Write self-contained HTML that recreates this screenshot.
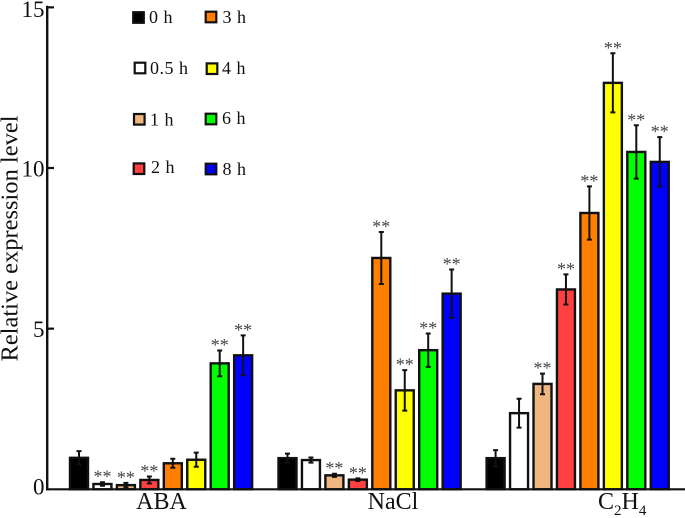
<!DOCTYPE html>
<html lang="en">
<head>
<meta charset="utf-8">
<title>Relative expression level chart</title>
<style>
html,body{margin:0;padding:0;background:#fff;}
svg{display:block;}
text{font-family:"Liberation Serif","Times New Roman",serif;fill:#111;}
</style>
</head>
<body>
<svg id="chart" xmlns="http://www.w3.org/2000/svg" width="685" height="518" viewBox="0 0 685 518"></svg>
<script>
const categories = ["ABA", "NaCl", "C2H4"];
const timepoints = ["0 h", "0.5 h", "1 h", "2 h", "3 h", "4 h", "6 h", "8 h"];
const colors = ["#000000", "#ffffff", "#f0b67f", "#ff4040", "#ff7f00", "#ffff00", "#00ff00", "#0000ff"];
const abaValues = [0.98, 0.165, 0.13, 0.29, 0.81, 0.92, 3.92, 4.17];
const naclValues = [0.97, 0.91, 0.435, 0.30, 7.2, 3.08, 4.33, 6.09];
const ethyleneValues = [0.97, 2.37, 3.28, 6.22, 8.6, 12.65, 10.5, 10.19];
const abaErrors = [0.21, 0.055, 0.07, 0.11, 0.14, 0.22, 0.40, 0.62];
const naclErrors = [0.14, 0.08, 0.05, 0.04, 0.81, 0.63, 0.52, 0.75];
const ethyleneErrors = [0.25, 0.45, 0.32, 0.47, 0.83, 0.92, 0.83, 0.77];
const abaStars = [0, 1, 1, 1, 0, 0, 1, 1];
const naclStars = [0, 0, 1, 1, 1, 1, 1, 1];
const ethyleneStars = [0, 0, 1, 1, 1, 1, 1, 1];
const yTicks = [0, 5, 10, 15];

const svg = document.getElementById('chart');
const NS = 'http://www.w3.org/2000/svg';
const y0 = 489.3, pxPerUnit = 32.13;
const groupStart = [79, 287.5, 495.6], step = 23.45, barW = 18;
const yScale = v => y0 - v * pxPerUnit;
const xScale = (g, i) => groupStart[g] + i * step;

function make(tag, attrs, parent) {
  const el = document.createElementNS(NS, tag);
  for (const k in attrs) el.setAttribute(k, attrs[k]);
  (parent || svg).appendChild(el);
  return el;
}

const seriesValues = [abaValues, naclValues, ethyleneValues];
const seriesErrors = [abaErrors, naclErrors, ethyleneErrors];
const seriesStars = [abaStars, naclStars, ethyleneStars];

seriesValues.forEach((vals, g) => {
  vals.forEach((v, i) => {
    const cx = xScale(g, i);
    const bar = make('rect', {x: cx - barW / 2, y: yScale(v), width: barW, height: y0 - yScale(v), fill: colors[i], stroke: '#111', 'stroke-width': 2.4});
    
    
    const e = seriesErrors[g][i];
    const top = yScale(v + e), bot = yScale(Math.max(v - e, 0));
    const err = make('path', {d: 'M' + cx + ' ' + top + 'V' + bot + 'M' + (cx - 2.5) + ' ' + top + 'H' + (cx + 2.5) + 'M' + (cx - 2.5) + ' ' + bot + 'H' + (cx + 2.5), fill: 'none', stroke: '#111', 'stroke-width': 2});
    
    
    if (seriesStars[g][i]) {
      const star = make('text', {x: cx, y: top + 0.5, 'text-anchor': 'middle', 'font-size': 18});
      star.textContent = '**';
      star.style.fill = '#444';
      
      
    }
  });
});

const yAxis = make('line', {x1: 47.2, y1: 5.8, x2: 47.2, y2: 490.5, stroke: '#111', 'stroke-width': 2.4});


const xAxis = make('line', {x1: 46, y1: y0, x2: 685, y2: y0, stroke: '#111', 'stroke-width': 2.2});



yTicks.forEach(t => {
  if (t > 0) {
    const tick = make('line', {x1: 47, y1: yScale(t), x2: 54, y2: yScale(t), stroke: '#111', 'stroke-width': 2.2});
    
    
  }
  const label = make('text', {x: 44.5, y: yScale(t) + 8.5 + (t === 0 ? -3.5 : 0) + (t === 15 ? 1 : 0), 'text-anchor': 'end', 'font-size': 23});
  label.textContent = t;
  
  
});

const yTitle = make('text', {transform: 'translate(17.5,361.5) rotate(-90)', 'font-size': 24, textLength: 246, lengthAdjust: 'spacingAndGlyphs'});
yTitle.textContent = 'Relative expression level';



const catCenters = [161.5, 393];
catCenters.forEach((cx, g) => {
  const c = make('text', {x: cx, y: 509, 'text-anchor': 'middle', 'font-size': 24});
  c.textContent = categories[g];
  
  
});
const eth = make('text', {x: 598, y: 509, 'font-size': 24});
eth.innerHTML = '<tspan>C</tspan><tspan font-size="15" dy="6">2</tspan><tspan font-size="24" dy="-6">H</tspan><tspan font-size="15" dy="6">4</tspan>';



const legendCols = [[138.5, 17.5, 149, 23], [140, 68, 150, 74], [139.3, 119.3, 150, 125.5], [139, 168.7, 151, 173], [211, 17, 222.5, 23], [212, 68.7, 222, 74], [211, 119, 222, 124], [211, 169, 222.5, 175]];
timepoints.forEach((tp, i) => {
  const p = legendCols[i];
  const g = make('g', {});
  
  
  const sw = make('rect', {x: p[0] - 5.3, y: p[1] - 5.3, width: 10.6, height: 10.6, fill: colors[i], stroke: '#111', 'stroke-width': 2.2}, g);
  
  
  const t = make('text', {x: p[2], y: p[3], 'font-size': 18, 'letter-spacing': 0.5}, g);
  t.textContent = tp;
  
  
});
</script>
</body>
</html>
